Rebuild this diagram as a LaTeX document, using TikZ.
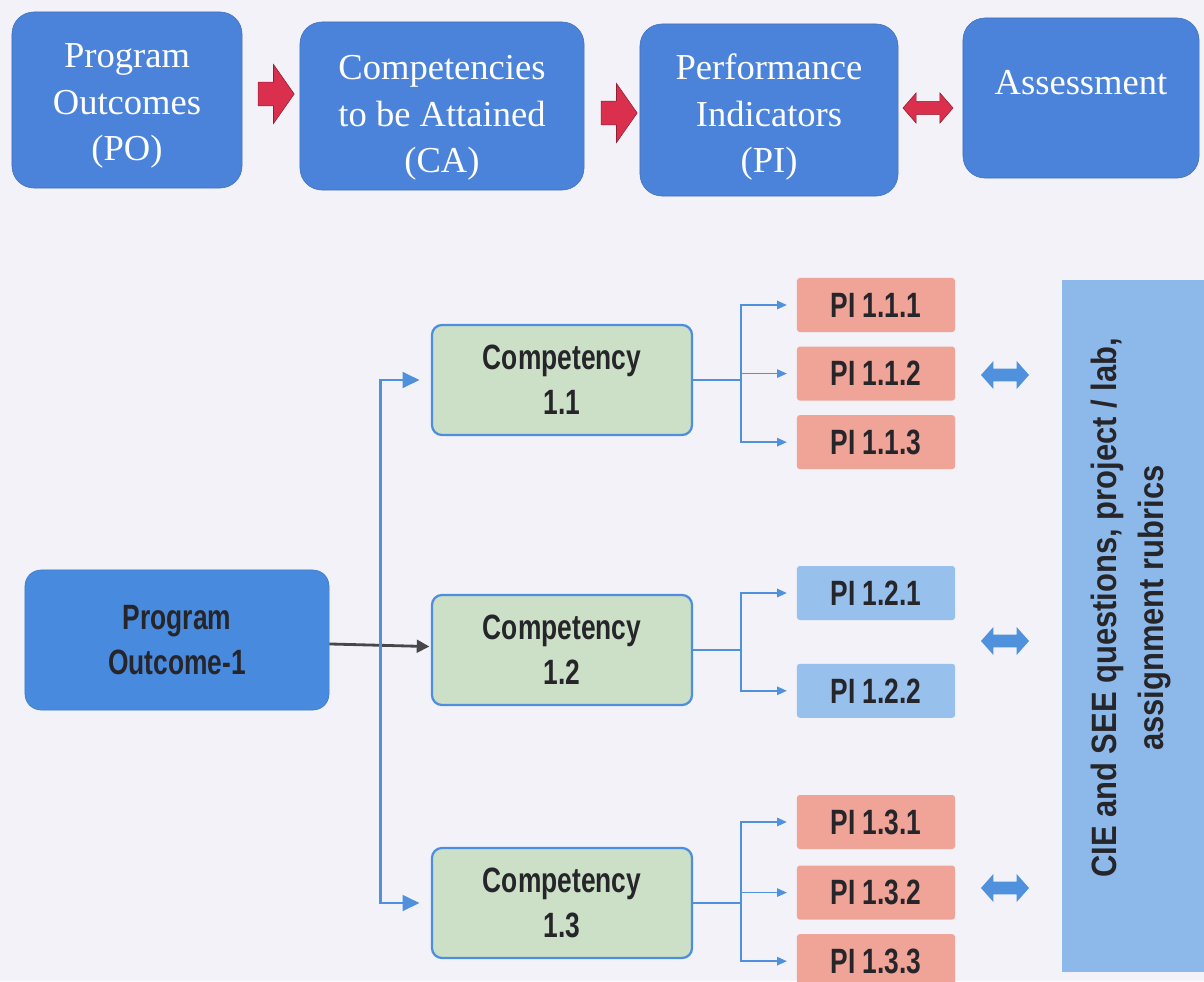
\documentclass[tikz,border=0pt]{standalone}
\usepackage{fontspec}
\setmainfont{Liberation Serif}
\newfontfamily\condfont[FakeStretch=0.75]{Liberation Sans}
\newfontfamily\sidefont[FakeStretch=0.88]{Liberation Sans}
\usetikzlibrary{arrows.meta, positioning, shapes.arrows}
\definecolor{PageBg}{RGB}{243, 242, 248}
\definecolor{TopBlue}{RGB}{76, 131, 218}
\definecolor{OutBlue}{RGB}{72, 138, 222}
\definecolor{CompGreen}{RGB}{204, 224, 200}
\definecolor{CompLine}{RGB}{78, 142, 222}
\definecolor{PiRed}{RGB}{240, 164, 152}
\definecolor{PiBlue}{RGB}{152, 192, 236}
\definecolor{CieBlue}{RGB}{140, 184, 234}
\definecolor{LinkBlue}{RGB}{80, 145, 222}
\definecolor{ArrowRed}{RGB}{218, 48, 78}
\definecolor{TextDark}{RGB}{38, 38, 42}

\begin{document}
\begin{tikzpicture}[
    x=0.025cm, y=-0.025cm,
    topbox/.style={fill=TopBlue, draw=TopBlue!85!black, rounded corners=0.55cm},
    toptext/.style={text=white, align=center, font=\fontsize{26}{33}\selectfont},
    redarrow/.style={single arrow, fill=ArrowRed, draw=ArrowRed!65!black,
                     inner xsep=0pt, inner ysep=0.29cm, minimum height=0.9cm,
                     single arrow head extend=0.44cm, single arrow tip angle=110},
    reddouble/.style={double arrow, fill=ArrowRed, draw=ArrowRed!65!black,
                      inner xsep=0pt, inner ysep=0.16cm, minimum height=1.25cm,
                      double arrow head extend=0.21cm, double arrow tip angle=98},
    bluedouble/.style={double arrow, fill=LinkBlue, inner xsep=0pt, inner ysep=0.15cm,
                       minimum height=1.2cm, double arrow head extend=0.19cm,
                       double arrow tip angle=97},
    outbox/.style={fill=OutBlue, draw=OutBlue!90!black, rounded corners=0.4cm,
                   minimum width=7.6cm, minimum height=3.5cm, align=center,
                   text=TextDark, font=\condfont\bfseries\fontsize{25}{32}\selectfont},
    compbox/.style={fill=CompGreen, draw=CompLine, line width=1.6pt,
                    rounded corners=0.25cm, minimum width=6.5cm, minimum height=2.75cm,
                    align=center, text=TextDark,
                    font=\condfont\bfseries\fontsize{25}{32}\selectfont},
    pibox/.style={rounded corners=2pt, minimum width=3.95cm, minimum height=1.35cm,
                  text=TextDark, font=\condfont\bfseries\fontsize{25}{30}\selectfont},
    bus/.style={draw=LinkBlue, line width=2pt,
                {Triangle[length=12pt, width=11pt]}-{Triangle[length=12pt, width=11pt]},
                shorten <=8pt, shorten >=8pt},
    branch/.style={draw=LinkBlue, line width=1.1pt, -{Triangle[length=7pt, width=6pt]},
                   shorten >=7pt},
    feed/.style={draw=TextDark!85, line width=2pt, -{Triangle[length=9pt, width=9pt]},
                 shorten >=1pt}
]
\useasboundingbox[fill=PageBg] (0,0) rectangle (1204,981);

% top row
\node[topbox, minimum width=5.75cm, minimum height=4.4cm] (po) at (127,100) {};
\node[topbox, minimum width=7.1cm, minimum height=4.2cm] (ca) at (442,106) {};
\node[topbox, minimum width=6.45cm, minimum height=4.3cm] (pi) at (769,110) {};
\node[topbox, minimum width=5.9cm, minimum height=4.0cm] (as) at (1081,98) {};
\node[toptext] (potext) at ([yshift=-0.15cm]po.center) {Program\\Outcomes\\(PO)};
\node[toptext] (catext) at ([yshift=-0.3cm]ca.center) {Competencies\\to be Attained\\(CA)};
\node[toptext] (pitext) at ([yshift=-0.18cm]pi.center) {Performance\\Indicators\\(PI)};
\node[toptext] (astext) at ([yshift=0.38cm]as.center) {Assessment};
\node[redarrow] (r1) at (272,94) {};
\node[redarrow] (r2) at (615,113) {};
\node[reddouble] (r3) at (928,108) {};

% outcome and competencies
\node[outbox] (po1) at (177,640) {Program\\Outcome-1};
\node[compbox] (c11) at (562,380) {Competency\\1.1};
\node[compbox] (c12) at (562,650) {Competency\\1.2};
\node[compbox] (c13) at (562,903) {Competency\\1.3};
\draw[feed] (po1) -- (c12);
\draw[bus] (c11.west) -- ++(-50,0) |- (c13.west);

% performance indicators
\node[pibox, fill=PiRed] (pi111) at (876,305) {PI 1.1.1};
\node[pibox, fill=PiRed, below=0.35cm of pi111] (pi112) {PI 1.1.2};
\node[pibox, fill=PiRed, below=0.35cm of pi112] (pi113) {PI 1.1.3};
\node[pibox, fill=PiBlue] (pi121) at (876,593) {PI 1.2.1};
\node[pibox, fill=PiBlue, below=1.08cm of pi121] (pi122) {PI 1.2.2};
\node[pibox, fill=PiRed] (pi131) at (876,822) {PI 1.3.1};
\node[pibox, fill=PiRed, below=0.4cm of pi131] (pi132) {PI 1.3.2};
\node[pibox, fill=PiRed, below=0.35cm of pi132] (pi133) {PI 1.3.3};
\foreach \k in {1,2,3} {
  \draw[branch] (c11.east) -- ++(48,0) |- (pi11\k.west);
  \draw[branch] (c13.east) -- ++(48,0) |- (pi13\k.west);
}
\foreach \k in {1,2}
  \draw[branch] (c12.east) -- ++(48,0) |- (pi12\k.west);

% assessment tools
\node[bluedouble] (d1) at (1005,375) {};
\node[bluedouble] (d2) at (1005,641) {};
\node[bluedouble] (d3) at (1005,888) {};
\node[fill=CieBlue, minimum width=3.9cm, minimum height=17.3cm] (cie) at (1140,626) {};
\node[rotate=90, align=center, text=TextDark,
      font=\sidefont\bfseries\fontsize{25}{33}\selectfont] (cietext) at (1131,608)
  {CIE and SEE questions, project / lab,\\assignment rubrics};
\end{tikzpicture}
\end{document}
